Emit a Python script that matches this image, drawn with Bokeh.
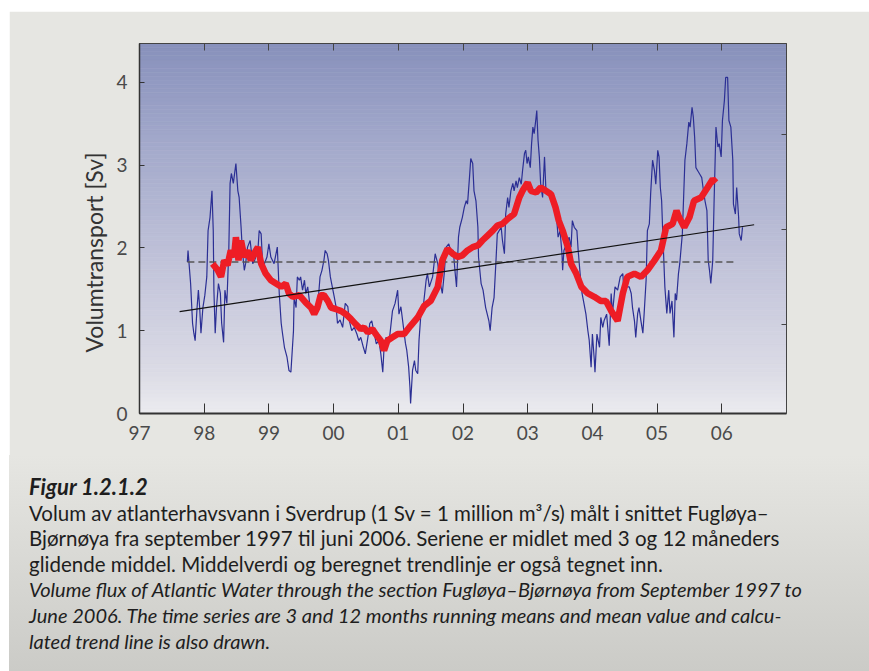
import numpy as np
from bokeh.plotting import figure
from bokeh.models import Range1d, LinearAxis, FixedTicker, Title, Div
from bokeh.layouts import column
from bokeh.embed import file_html
from bokeh.resources import INLINE

# ---------------- data ----------------
year_ticks = [1997, 1998, 1999, 2000, 2001, 2002, 2003, 2004, 2005, 2006]
year_labels = ["97", "98", "99", "00", "01", "02", "03", "04", "05", "06"]
sv_ticks = [0, 1, 2, 3, 4]
right_ticks = [1.07, 2.22, 3.37]

# 3-month running mean (thin blue)
blue_year = [
    1997.74, 1997.75, 1997.79, 1997.82, 1997.84, 1997.86, 1997.89, 1997.91, 1997.93, 1997.95,
    1997.98, 1998.01, 1998.04, 1998.06, 1998.09, 1998.12, 1998.14, 1998.15, 1998.17, 1998.19,
    1998.22, 1998.25, 1998.27, 1998.30, 1998.32, 1998.35, 1998.38, 1998.40, 1998.42, 1998.45,
    1998.49, 1998.52, 1998.54, 1998.57, 1998.59, 1998.62, 1998.64, 1998.67, 1998.71, 1998.75,
    1998.78, 1998.83, 1998.85, 1998.88, 1998.90, 1998.93, 1998.97, 1999.00, 1999.03, 1999.08,
    1999.13, 1999.16, 1999.19, 1999.21, 1999.24, 1999.28, 1999.31, 1999.34, 1999.38, 1999.39,
    1999.42, 1999.44, 1999.47, 1999.49, 1999.52, 1999.55, 1999.57, 1999.60, 1999.63, 1999.66,
    1999.70, 1999.74, 1999.77, 1999.79, 1999.82, 1999.85, 1999.87, 1999.90, 1999.92, 1999.95,
    1999.97, 2000.01, 2000.04, 2000.06, 2000.10, 2000.14, 2000.18, 2000.22, 2000.24, 2000.28,
    2000.32, 2000.36, 2000.39, 2000.42, 2000.46, 2000.49, 2000.53, 2000.56, 2000.59, 2000.63,
    2000.66, 2000.70, 2000.73, 2000.76, 2000.78, 2000.81, 2000.86, 2000.91, 2000.95, 2000.99,
    2001.01, 2001.04, 2001.08, 2001.11, 2001.13, 2001.16, 2001.18, 2001.19, 2001.22, 2001.25,
    2001.27, 2001.30, 2001.32, 2001.35, 2001.38, 2001.43, 2001.45, 2001.48, 2001.53, 2001.57,
    2001.61, 2001.64, 2001.68, 2001.71, 2001.74, 2001.78, 2001.81, 2001.85, 2001.88, 2001.90,
    2001.93, 2001.95, 2001.99, 2002.02, 2002.05, 2002.07, 2002.10, 2002.12, 2002.15, 2002.17,
    2002.20, 2002.23, 2002.24, 2002.28, 2002.31, 2002.35, 2002.40, 2002.42, 2002.45, 2002.48,
    2002.51, 2002.53, 2002.59, 2002.61, 2002.64, 2002.66, 2002.69, 2002.71, 2002.74, 2002.77,
    2002.79, 2002.82, 2002.84, 2002.87, 2002.90, 2002.92, 2002.95, 2002.97, 2002.99, 2003.01,
    2003.04, 2003.06, 2003.08, 2003.10, 2003.13, 2003.14, 2003.16, 2003.18, 2003.20, 2003.23,
    2003.26, 2003.28, 2003.31, 2003.36, 2003.41, 2003.45, 2003.47, 2003.50, 2003.53, 2003.54,
    2003.56, 2003.62, 2003.64, 2003.67, 2003.69, 2003.72, 2003.76, 2003.78, 2003.81, 2003.84,
    2003.86, 2003.90, 2003.93, 2003.95, 2003.98, 2004.00, 2004.03, 2004.04, 2004.07, 2004.11,
    2004.13, 2004.16, 2004.18, 2004.22, 2004.26, 2004.29, 2004.31, 2004.35, 2004.39, 2004.43,
    2004.47, 2004.49, 2004.53, 2004.57, 2004.60, 2004.62, 2004.65, 2004.67, 2004.70, 2004.72,
    2004.75, 2004.78, 2004.80, 2004.83, 2004.85, 2004.88, 2004.90, 2004.93, 2004.96, 2004.98,
    2005.01, 2005.03, 2005.05, 2005.07, 2005.09, 2005.12, 2005.15, 2005.18, 2005.20, 2005.23,
    2005.26, 2005.28, 2005.30, 2005.33, 2005.35, 2005.39, 2005.43, 2005.46, 2005.49, 2005.51,
    2005.54, 2005.56, 2005.58, 2005.60, 2005.63, 2005.66, 2005.69, 2005.71, 2005.74, 2005.77,
    2005.79, 2005.81, 2005.83, 2005.86, 2005.88, 2005.91, 2005.94, 2005.96, 2005.99, 2006.01,
    2006.04, 2006.06, 2006.09, 2006.11, 2006.14, 2006.17, 2006.18, 2006.21, 2006.23, 2006.26,
    2006.27, 2006.30, 2006.32,
]
blue_sv = [
    1.83, 1.97, 1.57, 1.09, 0.97, 0.88, 1.28, 1.49, 1.28, 0.97,
    1.28, 1.43, 1.65, 2.21, 2.37, 2.69, 2.21, 1.49, 0.97, 1.28,
    1.57, 1.45, 1.09, 0.86, 1.49, 1.33, 1.97, 2.78, 2.90, 2.78,
    3.02, 2.69, 2.61, 2.25, 1.97, 1.73, 1.81, 2.01, 2.09, 1.81,
    1.85, 1.97, 2.21, 2.17, 1.85, 1.81, 1.89, 2.05, 1.89, 1.81,
    2.01, 1.45, 1.09, 0.97, 0.80, 0.68, 0.52, 0.50, 1.00, 1.40,
    1.28, 1.65, 1.61, 1.65, 1.49, 1.61, 1.45, 1.53, 1.33, 1.21,
    1.29, 1.25, 1.45, 1.65, 1.73, 1.85, 1.97, 1.93, 1.85, 1.65,
    1.57, 1.41, 1.28, 1.09, 1.13, 1.04, 1.33, 1.29, 1.13, 1.00,
    1.04, 0.96, 0.88, 0.92, 0.80, 0.72, 0.92, 1.09, 1.12, 0.96,
    0.84, 0.88, 0.72, 0.50, 0.80, 0.92, 0.88, 1.24, 1.33, 1.49,
    1.20, 1.29, 1.04, 0.85, 0.77, 0.56, 0.32, 0.12, 0.52, 0.64,
    0.52, 0.48, 0.88, 1.21, 1.25, 1.61, 1.69, 1.53, 1.65, 1.93,
    1.81, 1.61, 1.45, 1.69, 2.01, 2.05, 1.97, 1.97, 1.69, 1.53,
    2.13, 2.25, 2.37, 2.49, 2.57, 2.53, 2.85, 3.08, 3.02, 2.69,
    2.57, 2.25, 1.89, 1.57, 1.49, 1.28, 1.12, 1.00, 1.28, 1.40,
    1.85, 2.17, 2.25, 2.09, 1.93, 2.41, 2.61, 2.49, 2.69, 2.78,
    2.69, 2.81, 2.73, 2.85, 2.77, 2.93, 3.14, 3.18, 3.02, 3.10,
    2.97, 3.26, 3.46, 3.38, 3.58, 3.66, 3.30, 3.10, 2.78, 2.61,
    3.10, 2.73, 2.65, 2.69, 2.53, 2.33, 2.13, 2.21, 1.93, 1.73,
    1.97, 2.09, 2.13, 2.01, 2.33, 2.25, 2.21, 1.97, 1.69, 1.45,
    1.37, 1.20, 1.00, 0.89, 0.56, 0.96, 0.64, 0.50, 0.96, 0.80,
    1.16, 1.04, 1.12, 1.20, 0.82, 1.45, 1.21, 1.53, 1.49, 1.65,
    1.69, 1.45, 1.53, 1.53, 1.45, 1.28, 1.12, 0.92, 1.21, 1.28,
    1.12, 0.97, 1.21, 1.61, 2.21, 2.29, 2.65, 3.06, 2.93, 2.77,
    3.18, 3.10, 2.73, 2.57, 2.13, 1.53, 1.21, 1.49, 1.21, 1.36,
    0.92, 1.45, 1.37, 1.69, 1.81, 2.17, 3.06, 3.26, 3.52, 3.46,
    3.70, 3.58, 3.34, 2.97, 2.93, 2.89, 2.85, 2.73, 2.57, 2.45,
    1.85, 1.73, 1.57, 1.85, 2.53, 3.46, 3.22, 3.26, 3.10, 3.54,
    3.78, 4.06, 4.06, 3.54, 3.46, 3.06, 2.53, 2.41, 2.73, 2.37,
    2.17, 2.09, 2.25,
]

# 12-month running mean (thick red)
red_year = [
    1998.13, 1998.21, 1998.26, 1998.31, 1998.36, 1998.41, 1998.46, 1998.49, 1998.53, 1998.57,
    1998.62, 1998.67, 1998.72, 1998.77, 1998.83, 1998.88, 1998.95, 1999.03, 1999.11, 1999.19,
    1999.26, 1999.31, 1999.37, 1999.47, 1999.57, 1999.65, 1999.70, 1999.75, 1999.80, 1999.85,
    1999.91, 1999.96, 2000.04, 2000.11, 2000.19, 2000.27, 2000.34, 2000.42, 2000.47, 2000.53,
    2000.60, 2000.65, 2000.73, 2000.78, 2000.83, 2000.91, 2000.99, 2001.09, 2001.19, 2001.30,
    2001.40, 2001.50, 2001.61, 2001.68, 2001.76, 2001.84, 2001.92, 2001.99, 2002.07, 2002.15,
    2002.23, 2002.30, 2002.38, 2002.46, 2002.53, 2002.61, 2002.69, 2002.79, 2002.87, 2002.92,
    2003.00, 2003.05, 2003.13, 2003.20, 2003.28, 2003.36, 2003.43, 2003.48, 2003.54, 2003.62,
    2003.67, 2003.75, 2003.83, 2003.93, 2004.03, 2004.13, 2004.21, 2004.29, 2004.39, 2004.47,
    2004.54, 2004.65, 2004.75, 2004.85, 2004.96, 2005.06, 2005.14, 2005.24, 2005.30, 2005.34,
    2005.42, 2005.50, 2005.57, 2005.68, 2005.78, 2005.86, 2005.91,
]
red_sv = [
    1.81, 1.73, 1.65, 1.85, 1.79, 1.97, 1.89, 2.13, 1.85, 2.09,
    1.89, 1.97, 1.85, 1.93, 2.01, 1.81, 1.69, 1.61, 1.57, 1.53,
    1.57, 1.45, 1.41, 1.43, 1.34, 1.28, 1.20, 1.28, 1.43, 1.43,
    1.36, 1.28, 1.26, 1.24, 1.20, 1.14, 1.08, 1.02, 1.04, 0.98,
    1.02, 0.96, 0.88, 0.76, 0.88, 0.92, 0.96, 0.96, 1.06, 1.16,
    1.30, 1.36, 1.53, 1.85, 1.99, 1.93, 1.89, 1.91, 1.97, 2.01,
    2.03, 2.09, 2.15, 2.21, 2.27, 2.29, 2.35, 2.41, 2.61, 2.69,
    2.79, 2.69, 2.67, 2.73, 2.69, 2.65, 2.49, 2.33, 2.21, 2.01,
    1.81, 1.69, 1.53, 1.45, 1.41, 1.36, 1.36, 1.24, 1.12, 1.45,
    1.65, 1.69, 1.65, 1.73, 1.85, 1.97, 2.25, 2.29, 2.45, 2.37,
    2.25, 2.37, 2.57, 2.61, 2.73, 2.83, 2.79,
]

# mean value (dashed) and linear trend (black)
mean_year = [1997.74, 2006.24]
mean_sv = [1.83, 1.83]
trend_year = [1997.62, 2006.50]
trend_sv = [1.23, 2.28]

# ---------------- figure ----------------
X0, X1 = 1997, 2007
Y0, Y1 = 0, 4.47
PANEL = "#e6e6e2"
FONT = "Lato"

p = figure(width=860, height=444, x_range=Range1d(X0, X1), y_range=Range1d(Y0, Y1),
           output_backend="svg", toolbar_location=None,
           min_border_left=130, min_border_right=83, min_border_top=32, min_border_bottom=42,
           border_fill_color=PANEL, background_fill_color="#ebebef",
           outline_line_color="#444444", outline_line_width=1)
p.xgrid.visible = False
p.ygrid.visible = False

# vertical gradient background of the plot frame
stops_y = [0.0, 0.5, 1.5, 2.5, 3.5, 4.47]
stops_r = [236, 220, 200, 179, 158, 136]
stops_g = [236, 220, 201, 183, 165, 145]
stops_b = [240, 230, 221, 211, 201, 188]
nb = 90
edges = np.linspace(Y0, Y1, nb + 1)
mids = 0.5 * (edges[:-1] + edges[1:])
cols = ["#%02x%02x%02x" % (int(np.interp(m, stops_y, stops_r)),
                           int(np.interp(m, stops_y, stops_g)),
                           int(np.interp(m, stops_y, stops_b))) for m in mids]
p.quad(left=X0, right=X1, bottom=edges[:-1], top=edges[1:], fill_color=cols,
       line_color=cols, line_width=0.6)

# series
p.line(blue_year, blue_sv, line_color="#2b2f94", line_width=1.2)
p.line(mean_year, mean_sv, line_color="#555555", line_width=1.5, line_dash="7 4")
p.line(red_year, red_sv, line_color="#ee1d25", line_width=6.5, line_join="bevel")
p.line(trend_year, trend_sv, line_color="#111111", line_width=1.2)

# axes
xa = p.xaxis[0]
xa.ticker = FixedTicker(ticks=year_ticks)
xa.major_label_overrides = {t: l for t, l in zip(year_ticks, year_labels)}
xa.major_tick_in = 10
xa.major_tick_out = 0
xa.minor_tick_line_color = None
xa.axis_line_width = 2
xa.axis_line_color = "#333333"
xa.major_tick_line_color = "#333333"
xa.major_label_text_font = FONT
xa.major_label_text_font_size = "19px"
xa.major_label_text_color = "#4a4a4a"
xa.major_label_standoff = 12

ya = p.yaxis[0]
ya.ticker = FixedTicker(ticks=sv_ticks)
ya.major_tick_in = 5
ya.major_tick_out = 0
ya.minor_tick_line_color = None
ya.axis_line_width = 1.5
ya.axis_line_color = "#333333"
ya.major_tick_line_color = "#333333"
ya.major_label_text_font = FONT
ya.major_label_text_font_size = "19px"
ya.major_label_text_color = "#4a4a4a"
ya.major_label_standoff = 12

# top and right borders carry only (label-less) inward ticks
top = LinearAxis(ticker=FixedTicker(ticks=[], minor_ticks=year_ticks),
                 major_tick_line_color=None, minor_tick_in=7, minor_tick_out=0,
                 minor_tick_line_color="#444444", axis_line_color="#444444")
p.add_layout(top, "above")
right = LinearAxis(ticker=FixedTicker(ticks=[], minor_ticks=right_ticks),
                   major_tick_line_color=None, minor_tick_in=5, minor_tick_out=0,
                   minor_tick_line_color="#444444", axis_line_color="#444444")
p.add_layout(right, "right")

ylab = Title(text="Volumtransport  [Sv]", align="left", offset=61, standoff=12,
             text_font=FONT, text_font_size="23px", text_font_style="normal",
             text_color="#333333")
p.add_layout(ylab, "left")

caption = (
    '<div style="width:860px;height:216px;box-sizing:border-box;padding:19px 0 0 20px;'
    'background:linear-gradient(#e6e6e2,#cbcbc7);font-family:Lato,sans-serif;font-size:20.5px;'
    'line-height:25.6px;color:#1e1e1e;white-space:nowrap;">'
    '<b><i style="font-size:22px;">Figur 1.2.1.2</i></b><br>'
    'Volum av atlanterhavsvann i Sverdrup (1 Sv = 1 million m³/s) målt i snittet Fugløya–<br>'
    'Bjørnøya fra september 1997 til juni 2006. Seriene er midlet med 3 og 12 måneders<br>'
    'glidende middel. Middelverdi og beregnet trendlinje er også tegnet inn.<br>'
    '<i style="font-size:20px;">Volume flux of Atlantic Water through the section Fugløya–Bjørnøya from September 1997 to<br>'
    'June 2006. The time series are 3 and 12 months running means and mean value and calcu-<br>'
    'lated trend line is also drawn.</i>'
    '</div>'
)
div = Div(text=caption, width=860, height=216, margin=(0, 0, 0, 0))

layout = column(p, div, spacing=0, margin=(11, 0, 0, 9))
open("out.html", "w").write(file_html(layout, INLINE))
